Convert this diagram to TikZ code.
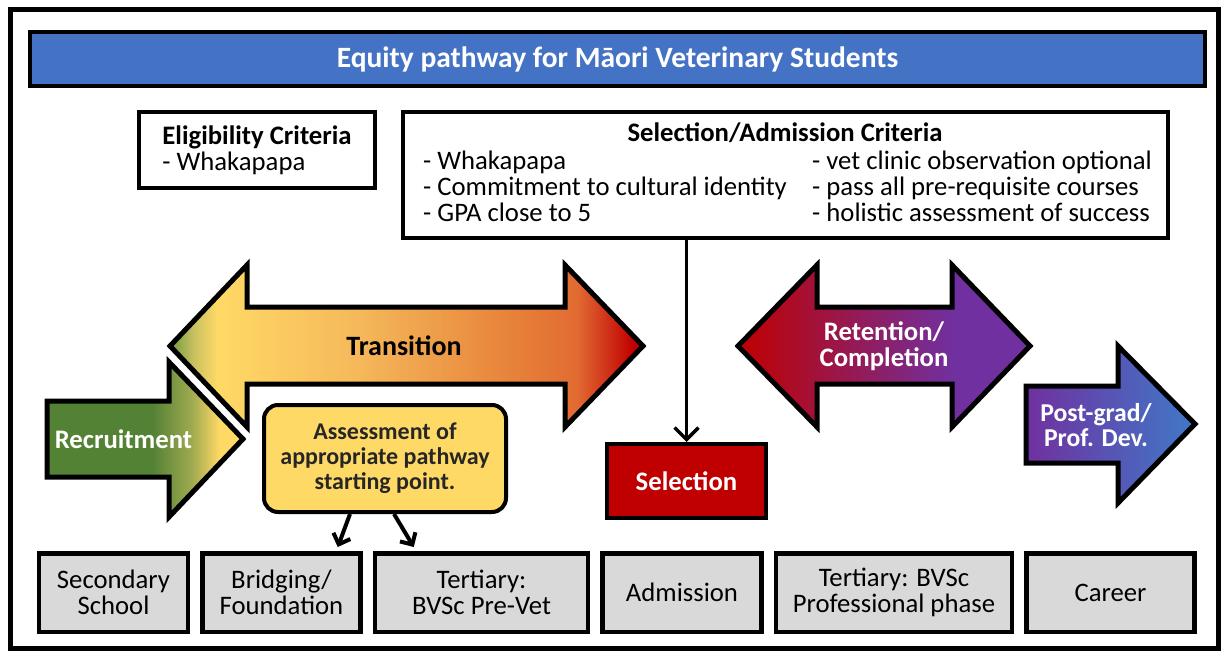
\documentclass[tikz,border=0pt]{standalone}
\usepackage{fontspec}
\setmainfont{Carlito}
\usetikzlibrary{arrows.meta,positioning}

\definecolor{titleblue}{HTML}{4472C4}
\definecolor{assessyellow}{HTML}{FFD966}
\definecolor{selred}{HTML}{C00000}
\definecolor{stagegray}{HTML}{D9D9D9}
\definecolor{leafgreen}{HTML}{548235}
\definecolor{olivetip}{HTML}{6E9A3C}
\definecolor{greenyellow}{HTML}{C8C060}
\definecolor{midorange}{HTML}{F5B85A}
\definecolor{deeporange}{HTML}{E8863C}
\definecolor{rustorange}{HTML}{E26B32}
\definecolor{limeshift}{HTML}{A0AA50}
\definecolor{plum}{HTML}{7030A0}
\definecolor{darktext}{HTML}{262626}

% colour fades for the big arrows
\pgfdeclarehorizontalshading{transitionfade}{100bp}{color(0bp)=(olivetip); color(25bp)=(olivetip);
  color(27.5bp)=(greenyellow); color(30bp)=(assessyellow); color(45bp)=(midorange); color(60bp)=(deeporange);
  color(68bp)=(rustorange); color(74bp)=(selred); color(100bp)=(selred)}
\pgfdeclarehorizontalshading{recruitfade}{100bp}{color(0bp)=(leafgreen); color(52bp)=(leafgreen);
  color(62bp)=(limeshift); color(69bp)=(assessyellow); color(100bp)=(assessyellow)}
\pgfdeclarehorizontalshading{retainfade}{100bp}{color(0bp)=(selred); color(25bp)=(selred);
  color(62bp)=(plum); color(100bp)=(plum)}
\pgfdeclarehorizontalshading{postgradfade}{100bp}{color(0bp)=(plum); color(25bp)=(plum);
  color(70bp)=(titleblue); color(100bp)=(titleblue)}

\begin{document}
\begin{tikzpicture}[x=1pt, y=-1pt,
  every node/.style={font=\fontsize{26.7}{26}\selectfont, inner sep=0pt},
  box/.style={draw, line width=4pt, fill=white},
  stage/.style={draw, line width=4.5pt, fill=stagegray, minimum height=78.5pt, align=center},
  shape line/.style={draw, line width=5pt, line join=miter},
  arrowtext/.style={font=\fontsize{26.7}{26}\selectfont\bfseries, text=white, align=center},
  barb/.style={line width=3.5pt, -{Straight Barb[length=12pt,width=24pt]}},
  small barb/.style={line width=4pt, -{Straight Barb[length=9pt,width=18pt]}}]
\useasboundingbox (0,0) rectangle (1225,655);
\draw[line width=5pt] (10,10) rectangle (1218,648);

% heading and criteria
\node[box, fill=titleblue, minimum width=1175pt, minimum height=54pt, text=white,
  font=\fontsize{29.5}{30}\selectfont\bfseries] (title) at (617.5,59) {Equity pathway for Māori Veterinary Students};
\node[box, minimum width=236pt, minimum height=76pt, align=left] (elig) at (257,150)
  {\textbf{Eligibility Criteria}\\- Whakapapa};
\node[box, minimum width=765pt, minimum height=126pt] (crit) at (785.5,175) {};
\node[font=\fontsize{26.7}{26}\selectfont\bfseries] (crit title) at (785,133) {Selection/Admission Criteria};
\node[anchor=north west, align=left] (crit left) at (423,151)
  {- Whakapapa\\- Commitment to cultural identity\\- GPA close to 5};
\node[anchor=north west, align=left] (crit right) at (812,151)
  {- vet clinic observation optional\\- pass all pre-requisite courses\\- holistic assessment of success};

% pathway arrows
\path[shape line, shade, shading=transitionfade] (170,346) -- (247,265) -- (247,307) -- (565,307)
  -- (565,265) -- (643,346) -- (565,427) -- (565,384) -- (247,384) -- (247,427) -- cycle;
\node[font=\fontsize{28}{28}\selectfont\bfseries] (transition) at (404,346) {Transition};

\path[shape line, shade, shading=recruitfade] (47,401) -- (169,401) -- (169,362) -- (243,439)
  -- (169,517) -- (169,477) -- (47,477) -- cycle;
\node[arrowtext] (recruit) at (123.5,439) {Recruitment};

\path[shape line, shade, shading=retainfade] (738,346) -- (817,265) -- (817,307) -- (952,307)
  -- (952,265) -- (1030,346) -- (952,427) -- (952,384) -- (817,384) -- (817,427) -- cycle;
\node[arrowtext] (retain) at (884,346) {Retention/\\Completion};

\path[shape line, shade, shading=postgradfade] (1026,386) -- (1118,386) -- (1118,346) -- (1195,424)
  -- (1118,503) -- (1118,463) -- (1026,463) -- cycle;
\node[arrowtext, font=\fontsize{25.7}{25}\selectfont\bfseries] (postgrad) at (1096,425) {Post-grad/\\Prof. Dev.};

\node[box, fill=assessyellow, rounded corners=14pt, minimum width=242pt, minimum height=107pt,
  align=center, text=darktext, font=\fontsize{24}{25}\selectfont\bfseries] (assess) at (385,458.5)
  {Assessment of\\appropriate pathway\\starting point.};
\node[box, fill=selred, minimum width=159pt, minimum height=74pt, text=white,
  font=\fontsize{26.7}{26}\selectfont\bfseries] (sel) at (686.5,481) {Selection};

% stages along the bottom
\node[stage, minimum width=149pt] (school) at (113.5,592.5) {Secondary\\School};
\node[stage, minimum width=158pt, right=10pt of school] (bridge) {Bridging/\\Foundation};
\node[stage, minimum width=213pt, right=10pt of bridge] (prevet) {Tertiary:\\BVSc Pre-Vet};
\node[stage, minimum width=159pt, right=10pt of prevet] (admit) {Admission};
\node[stage, minimum width=236pt, right=10pt of admit] (prof) {Tertiary: BVSc\\Professional phase};
\node[stage, minimum width=168pt, right=10pt of prof] (career) {Career};

\draw[barb] (crit.south -| sel.north) -- (sel.north);
\draw[small barb] ([xshift=-35pt]assess.south) -- ([xshift=-25pt,yshift=4pt]bridge.north east);
\draw[small barb] ([xshift=9pt]assess.south) -- ([xshift=41pt,yshift=4pt]prevet.north west);
\end{tikzpicture}
\end{document}
